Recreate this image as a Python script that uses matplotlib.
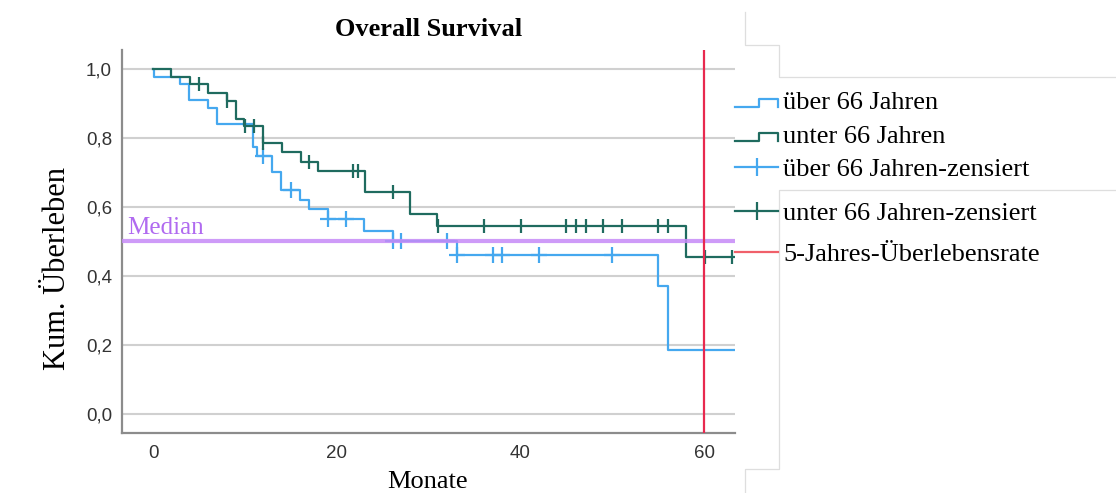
import numpy as np
import matplotlib
matplotlib.use('Agg')
import matplotlib.pyplot as plt
from matplotlib.lines import Line2D
from matplotlib.legend_handler import HandlerBase

# Kaplan-Meier steps (months, cumulative survival)
blue_times = [0, 0.1, 2.9, 3.9, 6.0, 7.0, 10.9, 11.3, 12.9, 13.9, 16.0, 17.0, 19.0, 23.0, 26.1, 33.1, 55.0, 56.0]
blue_surv = [1.0, 0.977, 0.955, 0.909, 0.886, 0.841, 0.773, 0.748, 0.701, 0.648, 0.621, 0.593, 0.566, 0.530, 0.501, 0.460, 0.370, 0.185]
blue_cens = [12.0, 15.0, 19.0, 21.0, 26.1, 27.0, 32.0, 33.1, 37.0, 38.0, 42.0, 50.0]
blue_end = 66.0

green_times = [0, 2.0, 4.0, 6.0, 8.0, 9.0, 9.9, 12.0, 14.0, 16.1, 18.0, 23.1, 28.0, 30.9, 58.0]
green_surv = [1.0, 0.976, 0.955, 0.930, 0.906, 0.855, 0.833, 0.785, 0.758, 0.731, 0.703, 0.643, 0.580, 0.545, 0.455]
green_cens = [5.0, 8.0, 10.0, 11.0, 12.0, 17.0, 21.8, 22.3, 26.1, 31.0, 36.0, 40.0, 45.0, 46.0, 47.1, 49.0,
              51.0, 55.0, 56.0, 60.1, 63.0]
green_end = 65.0

median_level = 0.5
five_years = 60

xticks = [0, 20, 40, 60]
yticks = [0.0, 0.2, 0.4, 0.6, 0.8, 1.0]
ytick_labels = ['0,0', '0,2', '0,4', '0,6', '0,8', '1,0']

labels = ['über 66 Jahren', 'unter 66 Jahren', 'über 66 Jahren-zensiert',
          'unter 66 Jahren-zensiert', '5-Jahres-Überlebensrate']

c_blue = '#45a8ef'
c_green = '#1f6b5f'
c_red = '#e8294f'
c_purple = '#c68af7'

W, H = 1116, 493
fig = plt.figure(figsize=(W / 100, H / 100), dpi=100)
ax = fig.add_axes([121.7 / W, 1 - 432.7 / H, (735 - 121.7) / W, (432.7 - 50) / H])

serif = 'Liberation Serif'
sans = 'Liberation Sans'


def step_level(times, surv, t):
    idx = np.searchsorted(times, t, side='right') - 1
    return np.asarray(surv)[idx]


def curve(times, surv, end):
    return np.append(times, end), np.append(surv, surv[-1])


bx, by = curve(blue_times, blue_surv, blue_end)
gx, gy = curve(green_times, green_surv, green_end)

ax.step(bx, by, where='post', color=c_blue, lw=1.6, zorder=3)
ax.step(gx, gy, where='post', color=c_green, lw=1.6, zorder=4)
ax.plot(blue_cens, step_level(blue_times, blue_surv, blue_cens), ls='none', marker='+',
        ms=11, mew=1.6, color=c_blue, zorder=3)
ax.plot(green_cens, step_level(green_times, green_surv, green_cens), ls='none', marker='|',
        ms=10, mew=1.6, color=c_green, zorder=4)

ax.axhline(median_level, color=c_purple, lw=3, alpha=0.85, zorder=5)
ax.text(-2.8, median_level + 0.006, 'Median', color='#b06af0', fontsize=18, family=serif,
        ha='left', va='bottom')
ax.axvline(five_years, color=c_red, lw=1.6, zorder=6)

ax.set_xlim(-3.41, 63.34)
ax.set_ylim(-0.054, 1.054)
ax.set_xticks(xticks)
ax.set_yticks(yticks)
ax.set_yticklabels(ytick_labels)
ax.tick_params(length=0, labelsize=13.5, labelcolor='#333333')
ax.tick_params(axis='y', pad=7)
ax.tick_params(axis='x', pad=9)
for lab in ax.get_xticklabels() + ax.get_yticklabels():
    lab.set_family(sans)
ax.yaxis.grid(True, color='#d0d0d0', lw=1.5, zorder=0)
ax.set_axisbelow(True)
for s in ['top', 'right']:
    ax.spines[s].set_visible(False)
for s in ['left', 'bottom']:
    ax.spines[s].set_color('#8c8c8c')
    ax.spines[s].set_linewidth(1.6)

ax.set_title('Overall Survival', fontsize=19, fontweight='bold', family=serif, pad=10)
ax.set_ylabel('Kum. Überleben', fontsize=22, family=serif, va='center')
ax.yaxis.set_label_coords(-0.104, 0.428)
ax.set_xlabel('Monate', fontsize=19, family=serif, va='center')
ax.xaxis.set_label_coords(0.498, -0.128)


class StepHandler(HandlerBase):
    def create_artists(self, legend, orig_handle, xdescent, ydescent, width, height, fontsize, trans):
        x0, y0 = -xdescent, -ydescent
        xs = [x0, x0 + 0.55 * width, x0 + 0.55 * width, x0 + width, x0 + width]
        ys = [y0 + 0.1 * height, y0 + 0.1 * height, y0 + 0.55 * height, y0 + 0.55 * height, y0 + 0.1 * height]
        ln = Line2D(xs, ys, color=orig_handle.get_color(), lw=orig_handle.get_linewidth())
        ln.set_transform(trans)
        return [ln]


h_blue = Line2D([], [], color=c_blue, lw=1.6)
h_green = Line2D([], [], color=c_green, lw=1.6)
h_bc = Line2D([], [], color=c_blue, lw=1.6, marker='|', ms=13, mew=1.6)
h_gc = Line2D([], [], color=c_green, lw=1.6, marker='|', ms=13, mew=1.6)
h_red = Line2D([], [], color='#f0606a', lw=1.6)

leg_kw = dict(frameon=False, borderpad=0, handlelength=1.63, handletextpad=0.2, borderaxespad=0,
              prop={'family': serif, 'size': 19}, loc='center left')
leg1 = fig.legend([h_blue, h_green, h_bc], labels[:3], labelspacing=0.38,
                  bbox_to_anchor=(735 / W, 1 - 136 / H),
                  handler_map={h_blue: StepHandler(), h_green: StepHandler()}, **leg_kw)
leg2 = fig.legend([h_gc, h_red], labels[3:], labelspacing=0.66,
                  bbox_to_anchor=(735 / W, 1 - 234 / H), **leg_kw)

# faint panel edges from the original screenshot
def px_line(xs, ys, c='#dedede'):
    fig.add_artist(Line2D([x / W for x in xs], [1 - y / H for y in ys], color=c, lw=0.9,
                          transform=fig.transFigure))


px_line([745, 745, 779, 779, 1116], [12, 45, 45, 77, 77])
px_line([1116, 779, 779, 745, 745], [190, 190, 469, 469, 493])

fig.savefig('out.png', dpi=100)
